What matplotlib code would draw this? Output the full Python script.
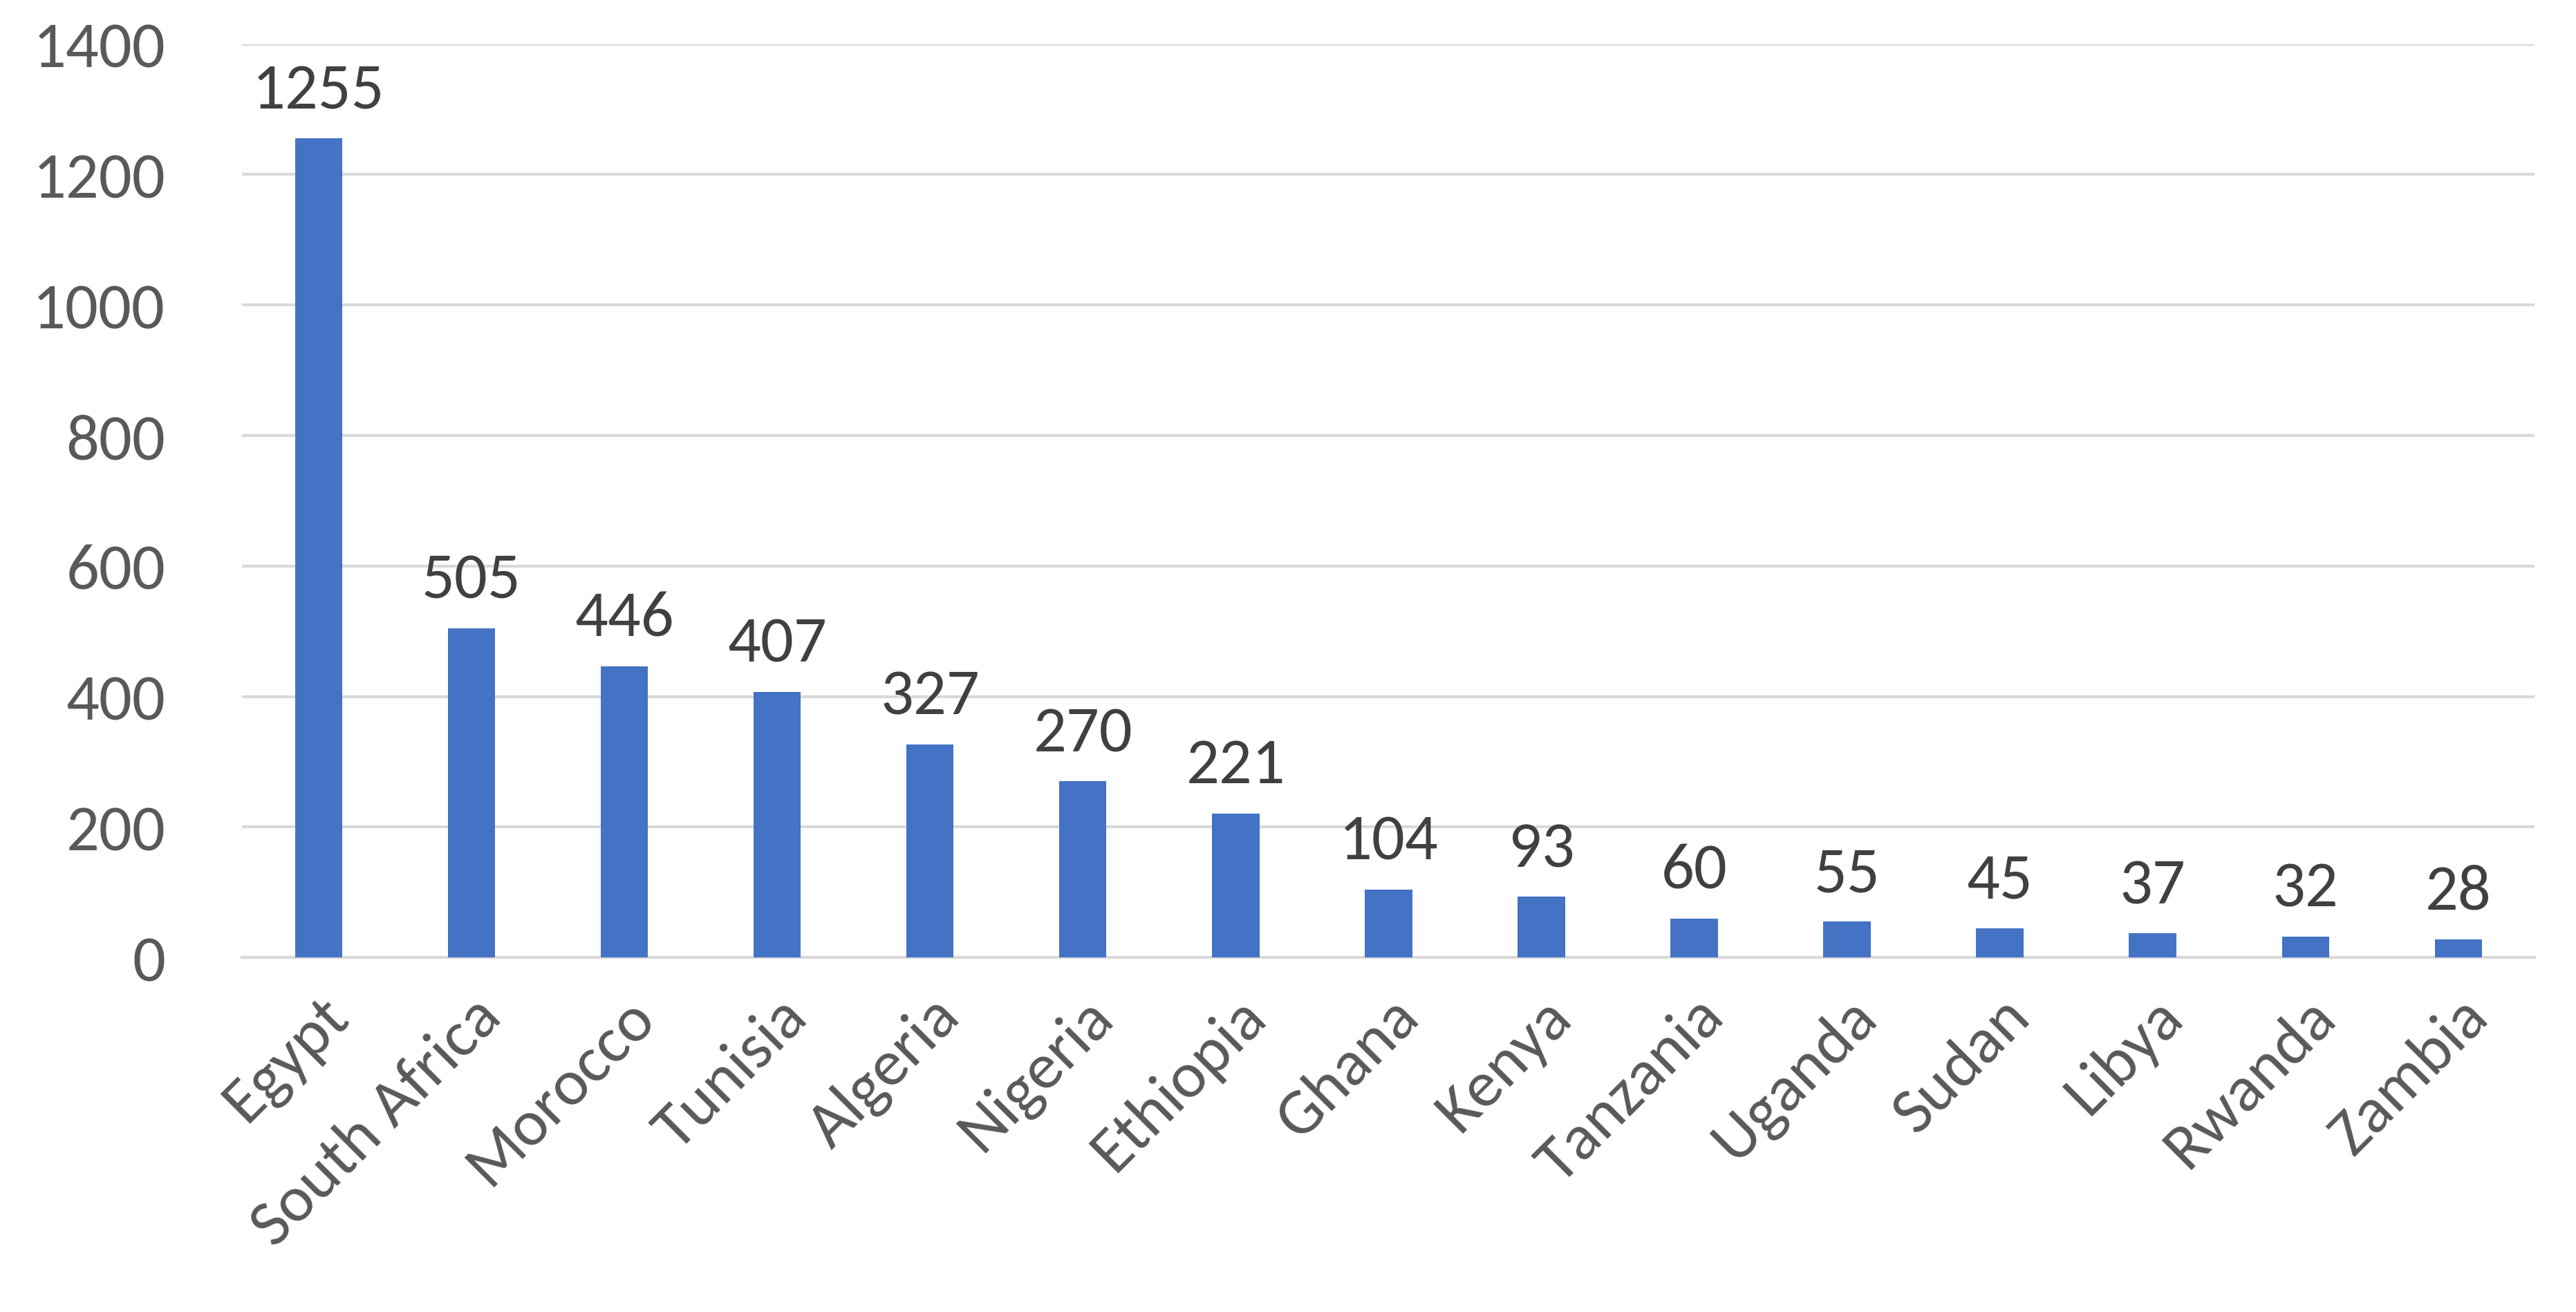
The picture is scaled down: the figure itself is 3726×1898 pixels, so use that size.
import matplotlib
matplotlib.use('Agg')
import matplotlib.pyplot as plt

countries = ["Egypt", "South Africa", "Morocco", "Tunisia", "Algeria", "Nigeria",
             "Ethiopia", "Ghana", "Kenya", "Tanzania", "Uganda", "Sudan",
             "Libya", "Rwanda", "Zambia"]
values = [1255, 505, 446, 407, 327, 270, 221, 104, 93, 60, 55, 45, 37, 32, 28]
yticks = [0, 200, 400, 600, 800, 1000, 1200, 1400]

plt.rcParams['font.family'] = ['Calibri', 'Carlito', 'Liberation Sans', 'DejaVu Sans']

fig = plt.figure(figsize=(37.26, 18.99), dpi=100)
ax = fig.add_axes([0.094, 0.27, 0.89, 0.696])

x = range(len(countries))
ax.bar(x, values, width=0.31, color='#4472C4', zorder=3)
for i, v in enumerate(values):
    ax.text(i, v + 30, str(v), ha='center', va='bottom', fontsize=68, color='#404040')

ax.set_ylim(0, 1400)
ax.set_xlim(-0.5, len(countries) - 0.5)
ax.set_yticks(yticks)
ax.yaxis.grid(True, color='#d9d9d9', linewidth=3, zorder=0)
ax.set_xticks(list(x))
ax.set_xticklabels(countries, rotation=45, ha='right', rotation_mode='anchor')
ax.tick_params(axis='both', labelsize=68, labelcolor='#595959', length=0)
ax.tick_params(axis='y', pad=80)
ax.tick_params(axis='x', pad=30)
for s in ['top', 'right', 'left']:
    ax.spines[s].set_visible(False)
ax.spines['bottom'].set_color('#d9d9d9')
ax.spines['bottom'].set_linewidth(3)

fig.savefig('out.png', dpi=100, facecolor='white')
